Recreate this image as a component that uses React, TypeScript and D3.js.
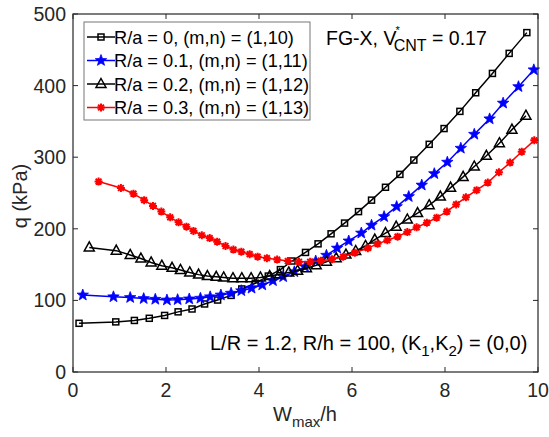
import * as d3 from 'd3';

// R/a = 0, (m,n) = (1,10)
const xs0 = [0.13, 0.92, 1.32, 1.64, 1.97, 2.26, 2.56, 2.83, 3.11, 3.4, 3.63, 3.92, 4.2, 4.46, 4.71, 5.0, 5.27, 5.55, 5.84, 6.14, 6.42, 6.72, 7.03, 7.33, 7.66, 7.98, 8.32, 8.66, 9.02, 9.38, 9.76];
const qs0 = [68, 70, 72, 75, 79, 84, 88, 95, 100.5, 107, 116, 124, 134, 143, 155, 167, 179, 193, 208, 224, 240, 258, 276, 296, 318, 340, 364, 390, 417, 445, 474];

// R/a = 0.1, (m,n) = (1,11)
const xs1 = [0.21, 0.87, 1.23, 1.52, 1.77, 2.02, 2.25, 2.5, 2.74, 2.95, 3.18, 3.4, 3.62, 3.84, 4.07, 4.3, 4.52, 4.76, 4.99, 5.22, 5.45, 5.68, 5.93, 6.2, 6.42, 6.69, 6.96, 7.22, 7.5, 7.77, 8.05, 8.34, 8.63, 8.96, 9.25, 9.58, 9.91];
const qs1 = [107.5, 105, 104, 102.5, 101.5, 100.5, 101, 102, 103, 105, 107.5, 110, 113.5, 117, 121.5, 127.5, 133, 140, 147, 155, 163, 173, 183, 194, 205, 217, 231, 245, 261, 277, 293, 312.5, 332, 353.5, 375.5, 398.5, 422];

// R/a = 0.2, (m,n) = (1,12)
const xs2 = [0.35, 0.93, 1.23, 1.46, 1.68, 1.91, 2.13, 2.31, 2.51, 2.7, 2.89, 3.08, 3.24, 3.44, 3.63, 3.83, 4.03, 4.23, 4.44, 4.64, 4.83, 5.02, 5.23, 5.45, 5.66, 5.87, 6.08, 6.29, 6.49, 6.72, 6.95, 7.19, 7.41, 7.66, 7.9, 8.12, 8.39, 8.63, 8.89, 9.17, 9.44, 9.74];
const qs2 = [174, 169.5, 163.5, 158.5, 153, 148.5, 145.5, 142.5, 139, 136, 134, 133, 132, 131, 131, 131, 132, 134, 136.5, 139, 141.5, 145, 149, 154, 159, 164, 169, 176, 185, 194, 203, 213, 222, 233, 245, 257.5, 272.5, 287, 302, 319.5, 338.5, 358];

// R/a = 0.3, (m,n) = (1,13)
const xs3 = [0.55, 1.03, 1.3, 1.53, 1.72, 1.9, 2.09, 2.27, 2.44, 2.59, 2.77, 2.94, 3.1, 3.28, 3.45, 3.62, 3.8, 3.97, 4.17, 4.39, 4.62, 4.86, 5.1, 5.33, 5.57, 5.81, 6.06, 6.34, 6.55, 6.76, 6.98, 7.19, 7.39, 7.61, 7.82, 8.04, 8.24, 8.45, 8.68, 8.92, 9.16, 9.4, 9.65, 9.92];
const qs3 = [266, 257, 249, 240, 232, 224, 216, 209, 203, 197, 191, 187, 182, 176, 171, 168, 164.5, 161, 159, 157, 155, 154, 154, 155.5, 157.5, 161, 166.5, 173, 179, 184, 189, 195.5, 202, 208.5, 215.5, 224, 234, 244, 254, 264.5, 279, 292.5, 307.7, 323.5];

const labels = ['R/a = 0, (m,n) = (1,10)', 'R/a = 0.1, (m,n) = (1,11)', 'R/a = 0.2, (m,n) = (1,12)', 'R/a = 0.3, (m,n) = (1,13)'];
const xTicks = [0, 2, 4, 6, 8, 10];
const yTicks = [0, 100, 200, 300, 400, 500];

const W = 549;
const H = 437;
const m = { left: 73, right: 11, top: 14, bottom: 65 };
const FONT = 'Arial, "Liberation Sans", Helvetica, sans-serif';
const AX = '#262626';

const series = [
  { xs: xs0, qs: qs0, color: '#000000', marker: 'square' },
  { xs: xs1, qs: qs1, color: '#0000ff', marker: 'star' },
  { xs: xs2, qs: qs2, color: '#000000', marker: 'triangle' },
  { xs: xs3, qs: qs3, color: '#ff0000', marker: 'asterisk' },
];

function starPath(ro: number, ri: number) {
  const pts: string[] = [];
  for (let i = 0; i < 10; i++) {
    const r = i % 2 === 0 ? ro : ri;
    const a = -Math.PI / 2 + (i * Math.PI) / 5;
    pts.push(`${(r * Math.cos(a)).toFixed(2)},${(r * Math.sin(a)).toFixed(2)}`);
  }
  return 'M' + pts.join('L') + 'Z';
}

function Marker({ kind, color, x, y }: { kind: string; color: string; x: number; y: number }) {
  if (kind === 'square') {
    return <rect x={x - 3} y={y - 3} width={6} height={6} fill="none" stroke={color} strokeWidth={1.5} />;
  }
  if (kind === 'star') {
    return <path d={starPath(6, 2.5)} transform={`translate(${x},${y})`} fill={color} stroke={color} strokeWidth={0.8} />;
  }
  if (kind === 'triangle') {
    return <path d="M0,-5.5L5,3.5L-5,3.5Z" transform={`translate(${x},${y})`} fill="none" stroke={color} strokeWidth={1.5} />;
  }
  const r = 4;
  const d = 2.9;
  return (
    <path
      d={`M${-r},0L${r},0M0,${-r}L0,${r}M${-d},${-d}L${d},${d}M${-d},${d}L${d},${-d}`}
      transform={`translate(${x},${y})`}
      stroke={color}
      strokeWidth={2}
      fill="none"
    />
  );
}

export default function App() {
  const x = d3.scaleLinear().domain([0, 10]).range([m.left, W - m.right]);
  const y = d3.scaleLinear().domain([0, 500]).range([H - m.bottom, m.top]);
  const line = d3.line<[number, number]>().x(d => x(d[0])).y(d => y(d[1]));
  const x0 = m.left;
  const x1 = W - m.right;
  const y0 = H - m.bottom;
  const y1 = m.top;

  const lg = { x: 84, y: 22, w: 226, h: 98, rowY: [37, 60.5, 84, 107.5] };

  return (
    <svg width={W} height={H} style={{ position: 'absolute', left: 0, top: 0, background: '#fff' }} fontFamily={FONT}>
      <rect x={0} y={0} width={W} height={H} fill="#fff" />
      {/* data */}
      {series.map((s, i) => {
        const pts = s.xs.map((v, j) => [v, s.qs[j]] as [number, number]);
        return (
          <g key={i}>
            <path d={line(pts) || ''} fill="none" stroke={s.color} strokeWidth={1.5} />
            {pts.map((p, j) => (
              <Marker key={j} kind={s.marker} color={s.color} x={x(p[0])} y={y(p[1])} />
            ))}
          </g>
        );
      })}
      {/* axes box and ticks */}
      <rect x={x0} y={y1} width={x1 - x0} height={y0 - y1} fill="none" stroke={AX} strokeWidth={1.2} />
      {xTicks.map(t => (
        <g key={'x' + t}>
          <line x1={x(t)} x2={x(t)} y1={y0} y2={y0 - 5} stroke={AX} />
          <line x1={x(t)} x2={x(t)} y1={y1} y2={y1 + 5} stroke={AX} />
          <text x={x(t)} y={y0 + 25} textAnchor="middle" fontSize={19.5} fill={AX}>{t}</text>
        </g>
      ))}
      {yTicks.map(t => (
        <g key={'y' + t}>
          <line x1={x0} x2={x0 + 5} y1={y(t)} y2={y(t)} stroke={AX} />
          <line x1={x1} x2={x1 - 5} y1={y(t)} y2={y(t)} stroke={AX} />
          <text x={x0 - 7} y={y(t) + 7} textAnchor="end" fontSize={19.5} fill={AX}>{t}</text>
        </g>
      ))}
      {/* axis labels */}
      <text x={305} y={421} textAnchor="middle" fontSize={20} fill={AX}>
        W<tspan fontSize={15} dy={6}>max</tspan><tspan dy={-6}>/h</tspan>
      </text>
      <text transform="translate(27,196) rotate(-90)" textAnchor="middle" fontSize={20} fill={AX}>q (kPa)</text>
      {/* legend */}
      <rect x={lg.x} y={lg.y} width={lg.w} height={lg.h} fill="#fff" stroke="#777" strokeWidth={1} />
      {series.map((s, i) => (
        <g key={'lg' + i}>
          <line x1={lg.x + 3} x2={lg.x + 31} y1={lg.rowY[i]} y2={lg.rowY[i]} stroke={s.color} strokeWidth={1.5} />
          <Marker kind={s.marker} color={s.color} x={lg.x + 17} y={lg.rowY[i]} />
          <text x={lg.x + 30} y={lg.rowY[i] + 6.5} fontSize={18.2} fill="#000">{labels[i]}</text>
        </g>
      ))}
      {/* annotations */}
      <text x={326} y={45} fontSize={19.5} fill="#000">
        FG-X, V<tspan fontSize={11} dy={-11} dx={-1}>*</tspan><tspan fontSize={16} dy={17} dx={-6}>CNT</tspan><tspan dy={-6}> = 0.17</tspan>
      </text>
      <text x={210} y={350} fontSize={20} fill="#000">
        L/R = 1.2, R/h = 100, (K<tspan fontSize={15} dy={6}>1</tspan><tspan dy={-6}>,K</tspan><tspan fontSize={15} dy={6}>2</tspan><tspan dy={-6}>) = (0,0)</tspan>
      </text>
    </svg>
  );
}
